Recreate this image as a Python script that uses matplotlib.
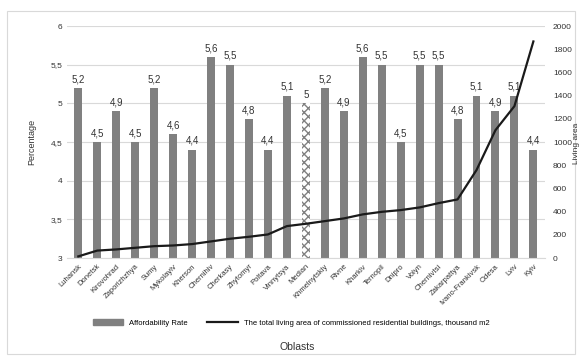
import numpy as np
import matplotlib
matplotlib.use("Agg")
import matplotlib.pyplot as plt
from matplotlib.patches import Rectangle

plt.rcParams['font.family'] = ['Liberation Sans', 'DejaVu Sans']
plt.rcParams['hatch.color'] = '#808080'

oblasts = ['Luhansk', 'Donetsk', 'Kirovohrad', 'Zaporizhzhya', 'Sumy', 'Mykolayiv',
           'Kherson', 'Chernihiv', 'Cherkasy', 'Zhytomyr', 'Poltava', 'Vinnytsya',
           'Median', 'Khmelnytskiy', 'Rivne', 'Kharkiv', 'Ternopil', 'Dnipro',
           'Volyn', 'Chernivtsi', 'Zakarpattya', 'Ivano-Frankivsk', 'Odesa', 'Lviv', 'Kyiv']
rate = [5.2, 4.5, 4.9, 4.5, 5.2, 4.6, 4.4, 5.6, 5.5, 4.8, 4.4, 5.1, 5.0,
        5.2, 4.9, 5.6, 5.5, 4.5, 5.5, 5.5, 4.8, 5.1, 4.9, 5.1, 4.4]
area = [15, 65, 75, 89, 103, 109, 121, 144, 167, 184, 204, 276, 296,
        319, 342, 377, 399, 414, 437, 474, 506, 759, 1103, 1310, 1868]

left_ticks = [3, 3.5, 4, 4.5, 5, 5.5, 6]
right_ticks = [0, 200, 400, 600, 800, 1000, 1200, 1400, 1600, 1800, 2000]

grey = '#808080'
txt = '#333333'

fig = plt.figure(figsize=(5.82, 3.58), dpi=100)
fig.patches.append(Rectangle((0.012, 0.01), 0.976, 0.96, transform=fig.transFigure,
                             fill=False, edgecolor='#d9d9d9', linewidth=0.8))

ax = fig.add_axes([0.115, 0.279, 0.821, 0.648])
x = np.arange(len(oblasts))
colors = ['white' if o == 'Median' else grey for o in oblasts]
bars = ax.bar(x, np.array(rate) - 3, bottom=3, width=0.42, color=colors, zorder=2)
for b, o in zip(bars, oblasts):
    if o == 'Median':
        b.set_hatch('xxxx')
        b.set_edgecolor(grey)
        b.set_linewidth(0)

for xi, v in zip(x, rate):
    lab = ('%g' % v).replace('.', ',')
    ax.text(xi, v + 0.05, lab, ha='center', va='bottom', fontsize=7, color=txt)

ax.set_ylim(3, 6)
ax.set_xlim(-0.6, len(oblasts) - 0.4)
ax.set_yticks(left_ticks)
ax.set_yticklabels([('%g' % t).replace('.', ',') for t in left_ticks])
ax.grid(axis='y', color='#d9d9d9', linewidth=0.8, zorder=0)
ax.set_axisbelow(True)
for s in ['top', 'right', 'left']:
    ax.spines[s].set_visible(False)
ax.spines['bottom'].set_color('#d9d9d9')
ax.tick_params(axis='both', length=0, labelsize=6, colors=txt)
ax.set_xticks(x)
ax.set_xticklabels(oblasts, rotation=45, ha='right', rotation_mode='anchor', fontsize=5.5)
ax.set_ylabel('Percentage', fontsize=6.5, color=txt, labelpad=10)

ax2 = ax.twinx()
line, = ax2.plot(x, area, color='#1a1a1a', linewidth=1.6, zorder=3)
ax2.set_ylim(0, 2000)
ax2.set_yticks(right_ticks)
ax2.tick_params(axis='y', length=0, labelsize=6, colors=txt, pad=6)
for s in ax2.spines.values():
    s.set_visible(False)
fig.text(0.99, 0.6, 'Living area', rotation=90, fontsize=6, color=txt,
         ha='center', va='center')

handles = [Rectangle((0, 0), 1, 1, color=grey), line]
fig.legend(handles, ['Affordability Rate',
                     'The total living area of commissioned residential buildings, thousand m2'],
           loc='center', bbox_to_anchor=(0.5, 0.098), ncol=2, frameon=False,
           fontsize=5.5, handlelength=4, columnspacing=2.5)
fig.text(0.51, 0.03, 'Oblasts', ha='center', va='center', fontsize=7.5, color=txt)

fig.savefig('out.png', dpi=100)
